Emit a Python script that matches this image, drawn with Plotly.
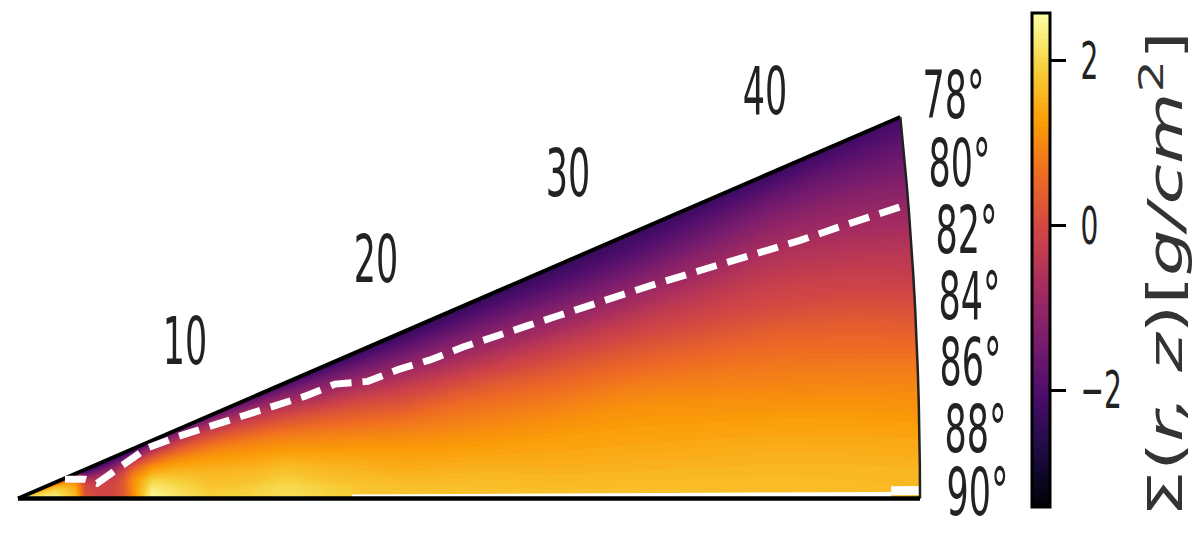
import numpy as np
import plotly.graph_objects as go

radius = [0.05, 1, 2, 3, 3.5, 4, 4.5, 5, 5.5, 6, 7, 8, 10, 12, 14, 16, 18, 20, 24, 28, 32, 36, 40, 44, 47]
theta = [78, 79, 80, 81, 82, 83, 84, 85, 86, 87, 88, 89, 90]

sigma_78 = [-1.5,-1.4,-1.0,-1.6,-2.4,-2.5,-2.5,-2.4,-2.3,-2.3,-2.1,-1.9,-1.8,-1.9,-2.1,-2.25,-2.35,-2.4,-2.4,-2.4,-2.35,-2.3,-2.3,-2.25,-2.2]
sigma_79 = [-0.4,-0.3,0.2,-0.5,-1.9,-2.1,-2.1,-2.0,-1.9,-1.7,-1.3,-1.1,-0.9,-1.1,-1.3,-1.55,-1.7,-1.8,-1.85,-1.9,-1.9,-1.75,-1.6,-1.65,-1.7]
sigma_80 = [0.5,0.7,1.0,0.2,-1.4,-1.6,-1.6,-1.5,-1.3,-1.0,-0.6,-0.4,-0.3,-0.5,-0.7,-0.95,-1.1,-1.25,-1.3,-1.35,-1.35,-1.2,-1.05,-1.15,-1.3]
sigma_81 = [1.1,1.3,1.5,0.7,-0.9,-1.2,-1.2,-1.1,-0.8,-0.4,0,0.15,0.2,0,-0.15,-0.4,-0.55,-0.7,-0.8,-0.85,-0.8,-0.7,-0.6,-0.75,-0.9]
sigma_82 = [1.5,1.6,1.7,1.0,-0.5,-0.8,-0.8,-0.7,-0.4,0.1,0.5,0.6,0.6,0.45,0.3,0.1,-0.05,-0.2,-0.3,-0.3,-0.3,-0.28,-0.25,-0.4,-0.55]
sigma_83 = [1.7,1.8,1.85,1.2,-0.2,-0.5,-0.5,-0.4,-0.1,0.5,0.95,1.0,0.95,0.85,0.7,0.5,0.35,0.2,0.2,0.15,0.15,0.1,0.05,-0.08,-0.25]
sigma_84 = [1.85,1.95,2.0,1.35,0,-0.3,-0.3,-0.2,0.1,0.75,1.3,1.3,1.2,1.1,1.0,0.85,0.7,0.6,0.6,0.55,0.55,0.5,0.45,0.3,0.1]
sigma_85 = [1.95,2.05,2.05,1.45,0.1,-0.2,-0.15,-0.1,0.2,0.95,1.6,1.55,1.4,1.3,1.25,1.1,1.0,0.9,0.85,0.85,0.9,0.82,0.75,0.62,0.5]
sigma_86 = [2.0,2.1,2.1,1.5,0.15,-0.1,-0.1,-0.05,0.3,1.05,1.9,1.75,1.55,1.5,1.5,1.35,1.25,1.15,1.1,1.1,1.15,1.08,1.0,0.93,0.85]
sigma_87 = [2.05,2.2,2.2,1.55,0.15,-0.05,-0.05,0,0.3,1.05,2.1,1.95,1.65,1.65,1.7,1.55,1.45,1.35,1.3,1.3,1.3,1.28,1.25,1.18,1.1]
sigma_88 = [2.1,2.3,2.3,1.55,0.2,0,0,0,0.3,1.05,2.3,2.1,1.75,1.75,1.9,1.7,1.6,1.5,1.5,1.45,1.45,1.45,1.45,1.4,1.35]
sigma_89 = [2.2,2.4,2.4,1.6,0.2,0,0,0,0.3,1.0,2.45,2.2,1.85,1.9,2.05,1.9,1.75,1.7,1.65,1.6,1.6,1.6,1.6,1.58,1.55]
sigma_90 = [2.2,2.4,2.4,1.6,0.2,0,0,0,0.1,1.0,2.45,2.25,1.95,1.95,2.1,2.0,1.85,1.8,1.75,1.75,1.75,1.72,1.7,1.68,1.65]

# Dashed contour, in cylindrical coordinates
contour_r = [2.45,3.49,4.12,5.16,6.72,8.34,10.0,11.57,13.24,14.96,16.52,18.24,19.8,21.47,23.19,24.86,26.52,28.14,29.7,31.47,32.93,35.54,38.15,40.75,42.99,44.66,46.22]
contour_z = [0.49,0.49,0.39,0.75,1.29,1.59,1.85,2.11,2.37,2.62,2.93,3.0,3.3,3.55,3.88,4.13,4.42,4.68,4.94,5.19,5.45,5.84,6.22,6.61,6.99,7.25,7.51]

# Radial spans with no data in the lowest angular cells
gap_r = [17.4, 45.5]
gap_far_r = [45.5, 47.0]

r_ticks = [10, 20, 30, 40]
r_tick_labels = ["10", "20", "30", "40"]
r_tick_shift = [(-21, 76), (-17, 77), (-13, 81), (-4, 82)]
theta_ticks = [78, 80, 82, 84, 86, 88, 90]
theta_tick_labels = ["78°", "80°", "82°", "84°", "86°", "88°", "90°"]
theta_tick_shift = [(53, 21), (53, 16), (55, 13), (54, 10), (53, 8), (56, 5), (57, 6)]

cbar_ticks = [-2, 0, 2]
cbar_labels = ["\u22122", "0", "2"]
ZMIN, ZMAX = -3.42, 2.58
RMAX = radius[-1]

z = np.array([sigma_78, sigma_79, sigma_80, sigma_81, sigma_82, sigma_83, sigma_84,
              sigma_85, sigma_86, sigma_87, sigma_88, sigma_89, sigma_90])
rr, tt = np.meshgrid(radius, np.radians(theta))
X = rr * np.sin(tt)
Y = rr * np.cos(tt)


def pol(r, deg):
    a = np.radians(deg)
    return np.asarray(r) * np.sin(a), np.asarray(r) * np.cos(a)


fig = go.Figure()
no_axis = dict(showgrid=False, showline=False, showticklabels="none",
               startline=False, endline=False, minorgridcount=0)
fig.add_trace(go.Carpet(a=radius, b=theta, x=X, y=Y, carpet="wedge",
                        aaxis=no_axis, baxis=no_axis))
fig.add_trace(go.Contourcarpet(
    a=radius, b=theta, z=z, carpet="wedge", colorscale="Inferno",
    zmin=ZMIN, zmax=ZMAX, autocontour=False,
    contours=dict(start=ZMIN, end=ZMAX, size=0.06, coloring="fill", showlines=False),
    line=dict(width=0),
    colorbar=dict(
        x=1032 / 1200, xanchor="left", xpad=0, y=1 - 13 / 550, yanchor="top", ypad=0,
        lenmode="pixels", len=494, thicknessmode="pixels", thickness=18,
        outlinecolor="black", outlinewidth=3,
        tickmode="array", tickvals=cbar_ticks, ticktext=cbar_labels,
        ticks="outside", ticklen=15, tickwidth=3, tickcolor="black",
        tickfont=dict(family="DejaVu Sans", size=52, color="#222"),
    ),
))

# white strips where the lowest cells have no data
gx, gy = pol(gap_r, 89.87)
fig.add_trace(go.Scatter(x=gx, y=gy, mode="lines", line=dict(color="white", width=5), hoverinfo="skip"))
gx, gy = pol(gap_far_r, 89.75)
fig.add_trace(go.Scatter(x=gx, y=gy, mode="lines", line=dict(color="white", width=9), hoverinfo="skip"))

# wedge frame
ex, ey = pol([0, RMAX], 78)
fig.add_trace(go.Scatter(x=ex, y=ey, mode="lines", line=dict(color="black", width=4), hoverinfo="skip"))
arc = np.array(theta, dtype=float)
fig.add_trace(go.Scatter(x=RMAX * np.sin(np.radians(arc)), y=RMAX * np.cos(np.radians(arc)),
                         mode="lines", line=dict(color="#222", width=2.5), hoverinfo="skip"))
ex, ey = pol([0, RMAX], 90)
fig.add_trace(go.Scatter(x=ex, y=ey, mode="lines", line=dict(color="black", width=4.5), hoverinfo="skip"))

fig.add_trace(go.Scatter(x=contour_r, y=contour_z, mode="lines",
                         line=dict(color="white", width=7, dash="21px,11px"), hoverinfo="skip"))

ann = []
for r, lab, (dx, dy) in zip(r_ticks, r_tick_labels, r_tick_shift):
    x, y = pol(r, 78)
    ann.append(dict(x=float(x), y=float(y), text=lab, xshift=dx, yshift=dy, showarrow=False,
                    font=dict(family="DejaVu Sans", size=66, color="#222")))
for t, lab, (dx, dy) in zip(theta_ticks, theta_tick_labels, theta_tick_shift):
    x, y = pol(RMAX, t)
    ann.append(dict(x=float(x), y=float(y), text=lab, xshift=dx, yshift=dy, showarrow=False,
                    font=dict(family="DejaVu Sans", size=66, color="#222")))
ann.append(dict(xref="paper", yref="paper", x=1197 / 1200, y=1 - 274 / 550, textangle=-90, showarrow=False,
                text="\u03a3(<i>r, z</i>)[<i>g/cm</i><sup>2</sup>]",
                font=dict(family="DejaVu Sans", size=50, color="#333")))

kx, ky = 902 / RMAX, 1835 / RMAX
fig.update_layout(
    width=1200, height=550, showlegend=False,
    paper_bgcolor="white", plot_bgcolor="white",
    margin=dict(l=0, r=0, t=0, b=0, autoexpand=False),
    xaxis=dict(range=[-18 / kx, (1200 - 18) / kx], visible=False),
    yaxis=dict(range=[-(550 - 498.5) / ky, 498.5 / ky], visible=False),
    annotations=ann,
)

# The reference is a vertically stretched raster, so its glyphs are narrow and tall.
post = """
document.body.style.margin = '0';
function squeeze(el, sx, sy, left, dx) {
  var b = el.getBBox();
  var cx = left ? b.x : b.x + b.width / 2, cy = b.y + b.height / 2;
  var prior = el.getAttribute('transform') || '';
  el.setAttribute('transform', 'translate(' + (dx || 0) + ',0) ' + prior + ' translate(' + cx + ',' + cy + ') scale(' + sx + ',' + sy + ') translate(' + (-cx) + ',' + (-cy) + ')');
}
var all = document.querySelectorAll('.annotation text');
all.forEach(function (el, i) {
  if (i === all.length - 1) { squeeze(el, 1.47, 0.95, false); }
  else { squeeze(el, 0.53, 1.0, false); }
});
var seen = new Set();
document.querySelectorAll('.colorbar .ytick text, .cbaxis text').forEach(function (el) {
  if (!seen.has(el)) { seen.add(el); squeeze(el, 0.54, 1.0, true, 4); }
});
"""
fig.write_html("out.html", post_script=post, config={"displayModeBar": False})
